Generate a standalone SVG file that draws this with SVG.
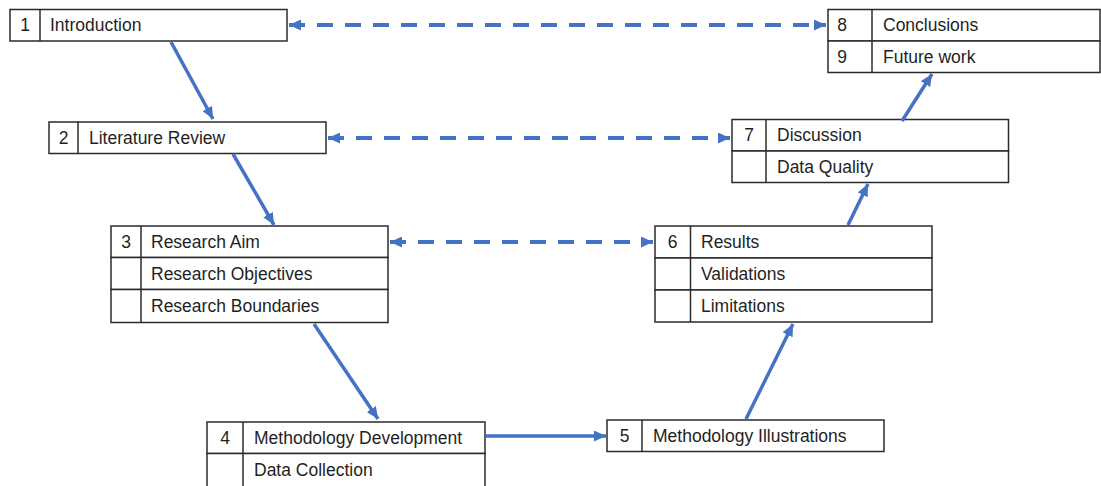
<svg xmlns="http://www.w3.org/2000/svg" width="1101" height="486" viewBox="0 0 1101 486">
  <style>
    .cell { fill: #ffffff; stroke: #2b2b2b; stroke-width: 1.5; }
    .div { stroke: #2b2b2b; stroke-width: 1.5; }
    .num { font-family: "Liberation Sans", Arial, sans-serif; font-size: 17.5px; fill: #1f1f1f; text-anchor: middle; }
    .lbl { font-family: "Liberation Sans", Arial, sans-serif; font-size: 17.5px; fill: #1f1f1f; }
    .flow { stroke: #4472C4; stroke-width: 3.5; fill: none; marker-end: url(#head); }
    .link { stroke: #4472C4; stroke-width: 4; fill: none; stroke-dasharray: 16 12; marker-start: url(#head); marker-end: url(#head); }
  </style>
  <defs>
    <marker id="head" markerUnits="userSpaceOnUse" markerWidth="12" markerHeight="11" refX="12" refY="5.5" orient="auto-start-reverse">
      <path d="M0,0 L12,5.5 L0,11 z" fill="#4472C4"/>
    </marker>
  </defs>
  <rect width="1101" height="486" fill="#ffffff"/>

  <!-- 1 Introduction -->
  <g id="node1">
    <rect class="cell" x="10" y="9.5" width="277" height="31.5"/>
    <line class="div" x1="40" y1="9.5" x2="40" y2="41"/>
    <text class="num" x="25" y="31">1</text>
    <text class="lbl" x="50" y="31">Introduction</text>
  </g>

  <!-- 2 Literature Review -->
  <g id="node2">
    <rect class="cell" x="49" y="122" width="277" height="31.5"/>
    <line class="div" x1="78" y1="122" x2="78" y2="153.5"/>
    <text class="num" x="63.5" y="143.5">2</text>
    <text class="lbl" x="89" y="143.5">Literature Review</text>
  </g>

  <!-- 3 Research -->
  <g id="node3">
    <rect class="cell" x="111" y="226" width="277" height="31.5"/>
    <rect class="cell" x="111" y="257.5" width="277" height="32"/>
    <rect class="cell" x="111" y="289.5" width="277" height="33"/>
    <line class="div" x1="141" y1="226" x2="141" y2="322.5"/>
    <text class="num" x="126" y="248">3</text>
    <text class="lbl" x="151" y="248">Research Aim</text>
    <text class="lbl" x="151" y="280">Research Objectives</text>
    <text class="lbl" x="151" y="312">Research Boundaries</text>
  </g>

  <!-- 4 Methodology Development -->
  <g id="node4">
    <rect class="cell" x="207" y="422" width="278" height="31.5"/>
    <rect class="cell" x="207" y="453.5" width="278" height="40"/>
    <line class="div" x1="243" y1="422" x2="243" y2="494"/>
    <text class="num" x="225" y="444">4</text>
    <text class="lbl" x="254" y="444">Methodology Development</text>
    <text class="lbl" x="254" y="476">Data Collection</text>
  </g>

  <!-- 5 Methodology Illustrations -->
  <g id="node5">
    <rect class="cell" x="607" y="420" width="277" height="31.5"/>
    <line class="div" x1="642" y1="420" x2="642" y2="451.5"/>
    <text class="num" x="624.5" y="442">5</text>
    <text class="lbl" x="653" y="442">Methodology Illustrations</text>
  </g>

  <!-- 6 Results -->
  <g id="node6">
    <rect class="cell" x="655" y="226" width="277" height="32"/>
    <rect class="cell" x="655" y="258" width="277" height="32"/>
    <rect class="cell" x="655" y="290" width="277" height="32"/>
    <line class="div" x1="690.5" y1="226" x2="690.5" y2="322"/>
    <text class="num" x="672.5" y="248">6</text>
    <text class="lbl" x="701" y="248">Results</text>
    <text class="lbl" x="701" y="280">Validations</text>
    <text class="lbl" x="701" y="312">Limitations</text>
  </g>

  <!-- 7 Discussion -->
  <g id="node7">
    <rect class="cell" x="732" y="119.5" width="276.5" height="31.5"/>
    <rect class="cell" x="732" y="151" width="276.5" height="31.5"/>
    <line class="div" x1="766" y1="119.5" x2="766" y2="182.5"/>
    <text class="num" x="749" y="141">7</text>
    <text class="lbl" x="777" y="141">Discussion</text>
    <text class="lbl" x="777" y="173">Data Quality</text>
  </g>

  <!-- 8 Conclusions / 9 Future work -->
  <g id="node8">
    <rect class="cell" x="828" y="9.5" width="272" height="31.5"/>
    <rect class="cell" x="828" y="41" width="272" height="31.5"/>
    <line class="div" x1="872" y1="9.5" x2="872" y2="72.5"/>
    <text class="num" x="842" y="31">8</text>
    <text class="lbl" x="883" y="31">Conclusions</text>
    <text class="num" x="842" y="63">9</text>
    <text class="lbl" x="883" y="63">Future work</text>
  </g>

  <!-- connectors -->
  <g id="connectors">
    <line class="flow" x1="171" y1="42" x2="213" y2="119"/>
    <line class="flow" x1="233" y1="154" x2="274" y2="225"/>
    <line class="flow" x1="314" y1="324" x2="378" y2="419"/>
    <line class="flow" x1="486" y1="436" x2="606" y2="436"/>
    <line class="flow" x1="746" y1="419" x2="793" y2="324"/>
    <line class="flow" x1="848" y1="225" x2="868" y2="184"/>
    <line class="flow" x1="902" y1="121" x2="932" y2="74"/>
    <line class="link" x1="289" y1="25" x2="826" y2="25"/>
    <line class="link" x1="328" y1="138" x2="730" y2="138"/>
    <line class="link" x1="390" y1="242" x2="653" y2="242"/>
  </g>
</svg>
